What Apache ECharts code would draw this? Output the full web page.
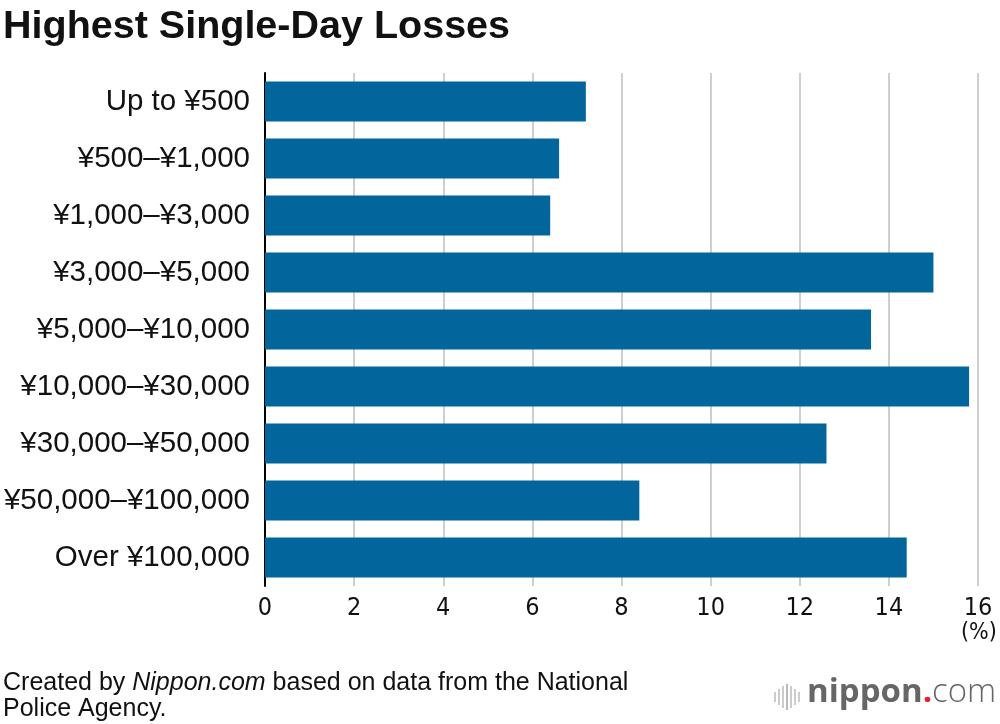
<!DOCTYPE html>
<html><head><meta charset="utf-8">
<script src="https://cdn.jsdelivr.net/npm/echarts@6/dist/echarts.min.js"></script>
<style>html,body{margin:0;padding:0;background:#fff}#c{width:1000px;height:724px}</style>
</head><body><div id="c"></div>
<script>
const categories = ["Up to ¥500","¥500–¥1,000","¥1,000–¥3,000","¥3,000–¥5,000","¥5,000–¥10,000","¥10,000–¥30,000","¥30,000–¥50,000","¥50,000–¥100,000","Over ¥100,000"];
const values = [7.2, 6.6, 6.4, 15.0, 13.6, 15.8, 12.6, 8.4, 14.4];
const xTicks = [0, 2, 4, 6, 8, 10, 12, 14, 16];

const chart = echarts.init(document.getElementById('c'));
const F = "'Liberation Sans', Arial, sans-serif";
const FN = "'DejaVu Sans Condensed', 'Liberation Sans Narrow', 'Liberation Sans', Arial, sans-serif";
const logoBars = [];
const barH = [10, 16, 22, 26, 22, 16, 10];
barH.forEach((h, i) => {
  logoBars.push({type:'rect', shape:{x:774 + i*4, y:697 - h/2, width:2, height:h}, style:{fill: i===3 ? '#bbb' : '#ccc'}});
});
chart.setOption({
  animation: false,
  grid: {left: 265, right: 22, top: 73, bottom: 138, containLabel: false},
  title: {text: 'Highest Single-Day Losses', left: 0, top: 2, padding: [5, 5, 5, 3],
    textStyle: {fontFamily: F, fontWeight: 'bold', fontSize: 39.5, color: '#111'}},
  xAxis: {type: 'value', min: xTicks[0], max: xTicks[xTicks.length-1], interval: 2,
    axisLine: {show: false}, axisTick: {show: false},
    splitLine: {show: true, lineStyle: {color: '#cfcfcf', width: 2}},
    axisLabel: {fontFamily: FN, fontSize: 25, color: '#111', margin: 10}},
  yAxis: {type: 'category', data: categories, inverse: true,
    axisLine: {show: true, onZero: false, lineStyle: {color: '#000', width: 2}},
    axisTick: {show: false},
    axisLabel: {fontFamily: F, fontSize: 29.5, color: '#111', margin: 15}},
  series: [{type: 'bar', data: values, barCategoryGap: '30%',
    itemStyle: {color: '#02669d'}, silent: true}],
  graphic: [
    {type:'text', left: 961, top: 622, style:{text:'(%)', font: "23px 'DejaVu Sans Condensed', 'Liberation Sans', Arial", fill:'#111'}},
    {type:'text', left: 3, top: 671, style:{rich:{a:{fontFamily:F,fontSize:25,fill:'#111'}, i:{fontFamily:F,fontSize:25,fontStyle:'italic',fill:'#111'}},
      text:'{a|Created by }{i|Nippon.com}{a| based on data from the National}'}},
    {type:'text', left: 3, top: 697, style:{text:'Police Agency.', font:"25px 'Liberation Sans', Arial", fill:'#111'}},
    ...logoBars,
    {type:'text', left: 807, top: 676, style:{rich:{n:{fontFamily:"'Open Sans', sans-serif",fontSize:33,fontWeight:'bold',fill:'#666'}, d:{fontFamily:"'Open Sans', sans-serif",fontSize:33,fontWeight:'bold',fill:'#e8202a'}, c:{fontFamily:"'Open Sans', sans-serif",fontSize:33,fontWeight:300,fill:'#666'}},
      text:'{n|nippon}{d|.}{c|com}'}}
  ]
});
</script></body></html>
